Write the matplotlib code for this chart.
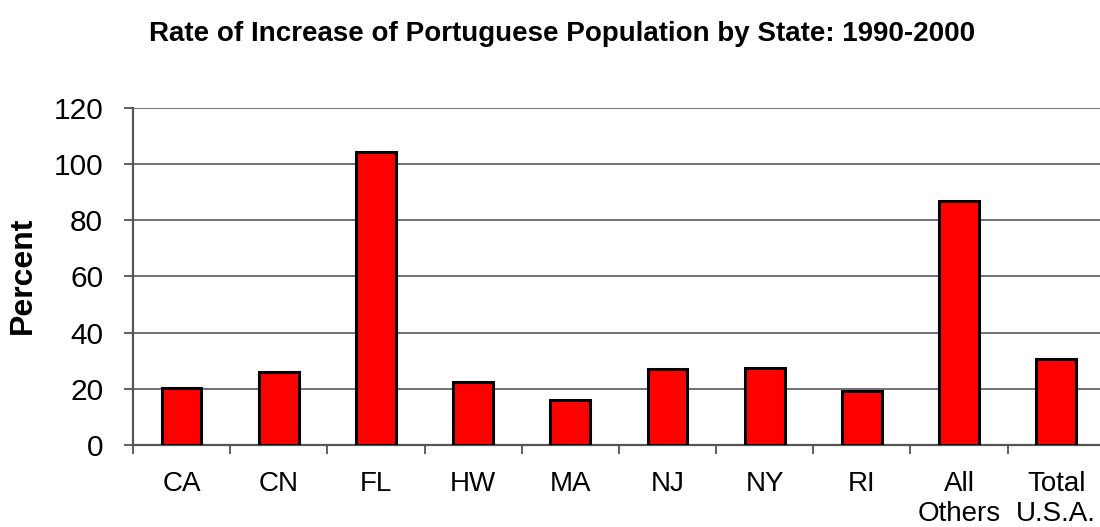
import numpy as np
import matplotlib.pyplot as plt

# Rate of increase by state, 1990-2000 (percent)
states = ["CA", "CN", "FL", "HW", "MA", "NJ", "NY", "RI", "All\nOthers", "Total\nU.S.A."]
increase = [20.2, 26.0, 104.4, 22.3, 16.1, 26.9, 27.4, 19.2, 87.0, 30.7]

plt.rcParams["font.family"] = ["Liberation Sans", "DejaVu Sans"]

fig = plt.figure(figsize=(11, 5.27), dpi=100)
ax = fig.add_axes([0.1209, 0.1556, 0.8834, 0.6395])

x = np.arange(len(states))
ax.bar(x, increase, width=0.41, color="#ff0000", edgecolor="black", linewidth=2.2, zorder=3)

ax.set_xlim(-0.5, len(states) - 0.5)
ax.set_ylim(0, 120)
ax.set_yticks(range(0, 121, 20))
ax.yaxis.grid(True, color="#4a4a4a", linewidth=1.1, zorder=0)

# category labels in the middle, tick marks between categories
ax.set_xticks(x)
ax.set_xticklabels(states, fontsize=20, linespacing=1.2)
ax.set_xticks(np.arange(-0.5, len(states), 1), minor=True)
ax.tick_params(axis="x", which="major", length=0, pad=19)
ax.tick_params(axis="x", which="minor", length=6.5, width=1.1, color="#333333", direction="out")
ax.tick_params(axis="y", length=6.5, width=1.1, color="#333333", labelsize=21.5, pad=15)

for side in ["top", "right"]:
    ax.spines[side].set_visible(False)
for side in ["left", "bottom"]:
    ax.spines[side].set_color("#555555")
    ax.spines[side].set_linewidth(1.6)

fig.text(0.511, 0.935, "Rate of Increase of Portuguese Population by State: 1990-2000",
         ha="center", va="center", fontsize=20, fontweight="bold")
fig.text(0.0205, 0.478, "Percent", rotation=90, ha="center", va="center",
         fontsize=23, fontweight="bold")

plt.savefig("out.png", dpi=100)
